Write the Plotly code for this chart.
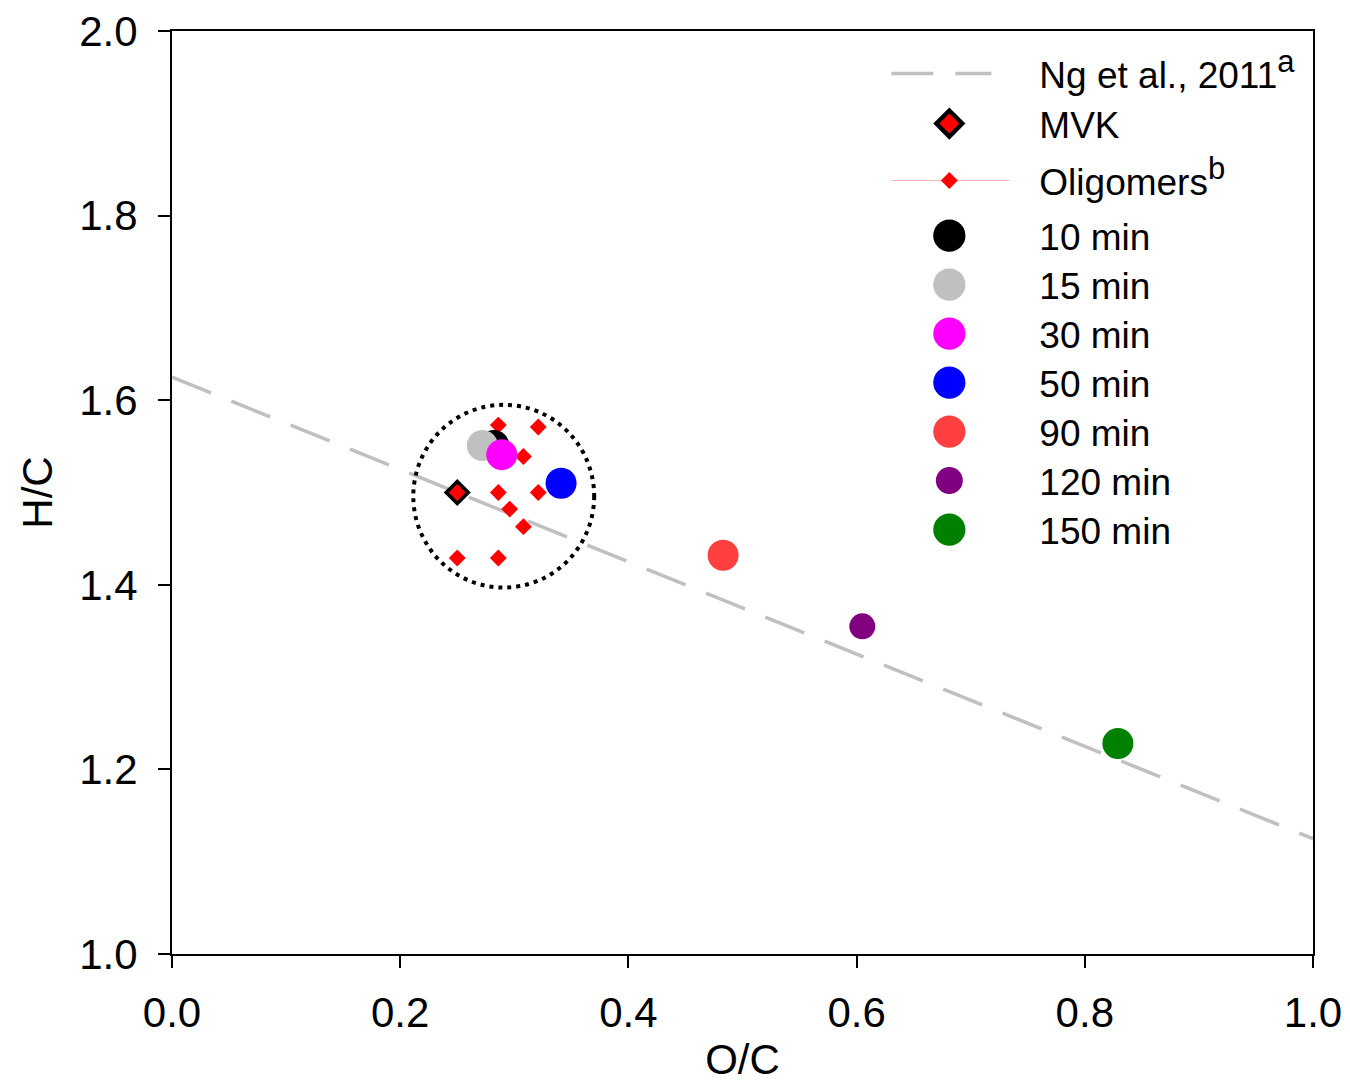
import plotly.graph_objects as go
import json

# ---- data ----
ng_x = [0.0, 1.0]
ng_y = [1.625, 1.125]

mvk_x = [0.250]
mvk_y = [1.500]

olig_x = [0.286, 0.321, 0.308, 0.286, 0.321, 0.296, 0.308, 0.250, 0.286]
olig_y = [1.573, 1.571, 1.539, 1.500, 1.500, 1.482, 1.463, 1.429, 1.429]

time_labels = ["10 min", "15 min", "30 min", "50 min", "90 min", "120 min", "150 min"]
time_x = [0.282, 0.272, 0.289, 0.341, 0.483, 0.605, 0.829]
time_y = [1.551, 1.551, 1.541, 1.510, 1.432, 1.355, 1.228]
time_colors = ["#000000", "#c0c0c0", "#ff00ff", "#0000ff", "#ff4040", "#800080", "#008000"]
time_sizes = [31, 31, 31, 31, 31, 26, 31]

# dotted circle around the MVK/oligomer cluster (data units)
circ_x = [0.2115, 0.370]
circ_y = [1.397, 1.595]

FONT = "Liberation Sans, Arial, sans-serif"
SUP = '<sup><span style="font-size:31px">%s</span></sup>'

fig = go.Figure()

fig.add_trace(go.Scatter(
    x=ng_x, y=ng_y, mode="lines", name="Ng et al., 2011" + SUP % "a",
    line=dict(color="#c0c0c0", width=3.5, dash="42px,22px"),
))

fig.add_trace(go.Scatter(
    x=mvk_x, y=mvk_y, mode="markers", name="MVK",
    marker=dict(symbol="diamond", size=17, color="#ff0000",
                line=dict(color="#000000", width=3.5)),
))

# separate points with gaps so no connecting lines are drawn (legend shows line+marker)
ox, oy = [], []
for a, b in zip(olig_x, olig_y):
    ox += [a, None]
    oy += [b, None]
fig.add_trace(go.Scatter(
    x=ox, y=oy, mode="lines+markers", name="Oligomers" + SUP % "b",
    connectgaps=False,
    line=dict(color="#ffb3b3", width=1),
    marker=dict(symbol="diamond", size=13, color="#ff0000", line=dict(width=0)),
))

for lab, x, y, c, s in zip(time_labels, time_x, time_y, time_colors, time_sizes):
    fig.add_trace(go.Scatter(
        x=[x], y=[y], mode="markers", name=lab,
        marker=dict(symbol="circle", size=s, color=c, line=dict(width=0)),
    ))

fig.add_shape(type="circle", xref="x", yref="y",
              x0=circ_x[0], x1=circ_x[1], y0=circ_y[0], y1=circ_y[1],
              line=dict(color="#000000", width=4, dash="4px,5px"), layer="above")

axis_common = dict(
    showgrid=False, zeroline=False, showline=True, linecolor="#000000", linewidth=2,
    mirror=True, ticks="outside", ticklen=12, tickwidth=2, tickcolor="#000000",
    tickfont=dict(family=FONT, size=42, color="#000000"), automargin=False,
)

fig.update_layout(
    width=1350, height=1083,
    margin=dict(l=172, r=37, t=31, b=129, autoexpand=False),
    paper_bgcolor="white", plot_bgcolor="white",
    font=dict(family=FONT, color="#000000"),
    xaxis=dict(range=[0, 1.0], dtick=0.2, tickformat=".1f", ticklabelstandoff=9,
               title=dict(text="O/C", font=dict(family=FONT, size=42), standoff=14),
               **axis_common),
    yaxis=dict(range=[1.0, 2.0], dtick=0.2, tickformat=".1f", ticklabelstandoff=12,
               title=dict(text="H/C", font=dict(family=FONT, size=42), standoff=14),
               **axis_common),
    showlegend=True,
    legend=dict(x=0.6024, y=0.987, xanchor="left", yanchor="top",
                bgcolor="rgba(0,0,0,0)", borderwidth=0,
                font=dict(family=FONT, size=37, color="#000000"),
                itemwidth=170, tracegroupgap=0),
)

scales = [0, 1.25, 0] + [s / 16.0 * 1.04 for s in time_sizes]
# legend line sample extents relative to symbol centre: [left offset, length]
lines = {0: [-58, 100], 2: [-58, 118]}
# legend row offsets (px) from the first row, as in the reference
row_offsets = [0, 50, 107, 162, 211, 260, 309, 358, 407, 456]
post = """
document.body.style.margin = '0';
document.documentElement.style.margin = '0';
var gd = document.getElementById('{plot_id}');
var SCALES = %s;
var LINES = %s;
var ROWS = %s;
function fixLegend(){
  var traces = gd.querySelectorAll('.legend .traces');
  var y0 = null;
  traces.forEach(function(t, i){
    var tr = t.getAttribute('transform') || '';
    var m = tr.match(/translate\\(([-0-9.]+)[ ,]+([-0-9.]+)\\)/);
    if(m){
      var tx = parseFloat(m[1]), ty = parseFloat(m[2]);
      if(y0 === null) y0 = ty;
      if(ROWS[i] !== undefined) t.setAttribute('transform', 'translate(' + tx + ',' + (y0 + ROWS[i]) + ')');
    }
    var s = SCALES[i];
    if(s){
      t.querySelectorAll('.legendpoints path.scatterpts').forEach(function(p){
        var ptr = (p.getAttribute('transform') || '').replace(/ ?scale\\([^)]*\\)/, '');
        p.setAttribute('transform', ptr + ' scale(' + s + ')');
      });
    }
    var L = LINES[i];
    if(L){
      t.querySelectorAll('.legendlines path.js-line').forEach(function(p){
        var d = p.getAttribute('d') || '';
        var mm = d.match(/^M([-0-9.]+),([-0-9.]+)h([-0-9.]+)$/);
        if(!mm) return;
        var x0 = parseFloat(mm[1]), len = parseFloat(mm[3]);
        var c = x0 + len / 2;
        p.setAttribute('d', 'M' + (c + L[0]) + ',' + mm[2] + 'h' + L[1]);
      });
    }
  });
}
fixLegend();
gd.on('plotly_afterplot', fixLegend);
""" % (json.dumps(scales), json.dumps(lines), json.dumps(row_offsets))

fig.write_html("out.html", post_script=post, config={"displayModeBar": False})
